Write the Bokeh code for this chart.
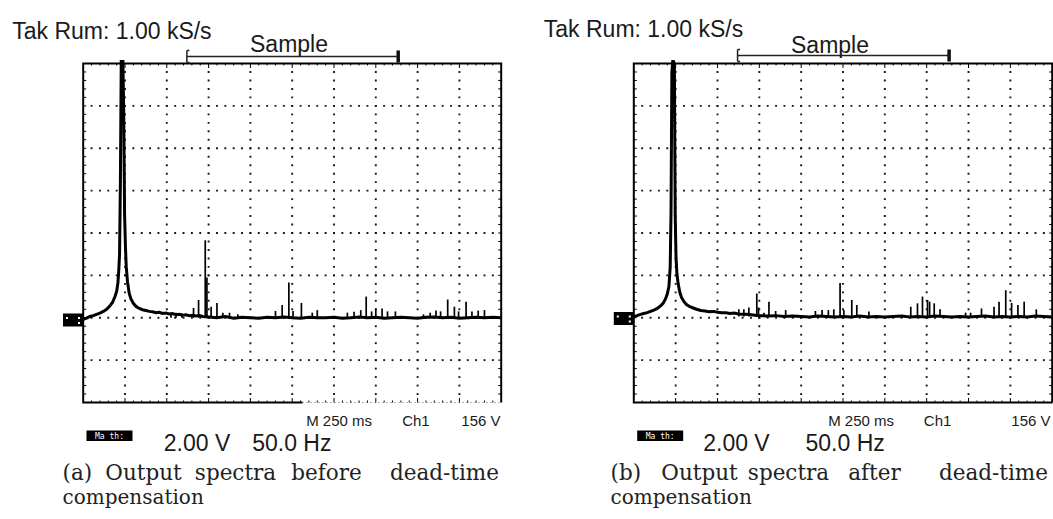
import numpy as np
from bokeh.plotting import figure
from bokeh.models import Range1d
from bokeh.core.properties import value
from bokeh.layouts import row
from bokeh.embed import file_html
from bokeh.resources import INLINE

# ---------------- data (x: frequency in Hz, y: screen divisions) ----------------
freq_a = [0, 4, 8, 12, 16, 20, 24, 28, 32, 35, 38, 40, 41.5, 42.5, 43.5, 44.5, 45.5, 46.5,
          47.5, 48.5, 49.5, 50.5, 51.5, 53, 55, 57, 60, 63, 67, 71, 75, 79, 83, 87, 91, 95,
          99, 103, 107, 111, 115, 119, 123, 127, 131, 135, 139, 143, 150, 160, 170, 180, 190,
          200, 210, 220, 230, 240, 250, 260, 270, 280, 290, 300, 310, 320, 330, 340, 350, 360,
          370, 380, 390, 400, 410, 420, 430, 440, 450, 460, 470, 480, 490, 500]
level_a = [1.96, 1.99, 2.03, 2.05, 2.08, 2.11, 2.15, 2.2, 2.28, 2.36, 2.5, 2.62, 2.82, 3.1,
           3.5, 5.2, 8.5, 9.6, 9.0, 6.8, 4.45, 3.7, 3.2, 2.85, 2.58, 2.45, 2.34, 2.27, 2.22,
           2.19, 2.17, 2.15, 2.14, 2.12, 2.13, 2.1, 2.11, 2.09, 2.1, 2.07, 2.08, 2.06, 2.07,
           2.05, 2.06, 2.04, 2.05, 2.03, 2.02, 2.0, 2.03, 1.99, 2.01, 2.0, 1.99, 2.01, 2.0,
           2.02, 2.0, 1.99, 2.01, 2.0, 2.0, 2.01, 1.99, 2.0, 2.02, 2.0, 2.01, 1.99, 2.0, 2.01,
           2.0, 1.99, 2.01, 2.02, 2.0, 2.01, 1.99, 2.0, 2.01, 2.0, 2.01, 2.0]
spike_freq_a = [105, 111, 118, 132, 138, 146, 148, 153, 160, 167, 175, 185, 230, 238, 246,
                251, 261, 274, 280, 316, 324, 332, 338.5, 345, 350, 357.5, 364, 373.5, 407,
                415, 422, 427.5, 436, 444, 449, 458, 465, 472.5, 480]
spike_level_a = [2.12, 2.12, 2.1, 2.23, 2.42, 3.83, 2.95, 2.26, 2.35, 2.12, 2.12, 2.08, 2.16,
                 2.3, 2.83, 2.16, 2.35, 2.12, 2.18, 2.12, 2.14, 2.18, 2.5, 2.15, 2.22, 2.22,
                 2.15, 2.15, 2.08, 2.12, 2.17, 2.15, 2.43, 2.26, 2.15, 2.38, 2.15, 2.17, 2.18]
floor_a = 2.0

freq_b = [0, 4, 8, 12, 16, 20, 24, 28, 32, 35, 38, 40, 42, 43.5, 44.5, 45.5, 46.5, 47.5,
          48.5, 49.5, 50.5, 51.5, 53, 55, 57, 60, 63, 67, 71, 75, 80, 85, 90, 95, 100, 105,
          110, 115, 120, 125, 130, 135, 140, 145, 150, 160, 170, 180, 190, 200, 210, 220, 230,
          240, 250, 260, 270, 280, 290, 300, 310, 320, 330, 340, 350, 360, 370, 380, 390, 400,
          410, 420, 430, 440, 450, 460, 470, 480, 490, 500]
level_b = [2.03, 2.05, 2.08, 2.1, 2.12, 2.15, 2.18, 2.22, 2.28, 2.34, 2.45, 2.56, 2.74, 3.2,
           4.5, 7.8, 9.6, 9.5, 8.0, 4.4, 3.4, 3.05, 2.8, 2.6, 2.48, 2.38, 2.31, 2.26, 2.23,
           2.2, 2.17, 2.16, 2.14, 2.15, 2.13, 2.12, 2.12, 2.1, 2.11, 2.09, 2.08, 2.08, 2.07,
           2.06, 2.05, 2.04, 2.05, 2.03, 2.04, 2.03, 2.02, 2.04, 2.03, 2.02, 2.03, 2.02, 2.04,
           2.02, 2.03, 2.02, 2.03, 2.04, 2.02, 2.03, 2.02, 2.04, 2.03, 2.02, 2.03, 2.02, 2.03,
           2.04, 2.02, 2.03, 2.02, 2.03, 2.02, 2.04, 2.03, 2.02]
spike_freq_b = [125.5, 131.5, 137.5, 147, 149, 155.5, 161.5, 169.5, 181.5, 217, 225, 232.5,
                239, 246.5, 251, 260.5, 266.5, 281, 331, 339, 345, 351, 353.5, 359, 366,
                396.5, 402.5, 415.5, 430.5, 436.5, 444.5, 451.5, 459, 466.5, 481]
spike_level_b = [2.2, 2.2, 2.24, 2.57, 2.24, 2.12, 2.38, 2.16, 2.18, 2.16, 2.18, 2.18, 2.2,
                 2.82, 2.18, 2.42, 2.3, 2.15, 2.26, 2.34, 2.5, 2.42, 2.38, 2.34, 2.2, 2.12,
                 2.12, 2.22, 2.26, 2.38, 2.65, 2.35, 2.3, 2.38, 2.2]
floor_b = 2.03

sample_span = [124.0, 376.8]     # Hz, extent of the "Sample" bracket

texts_a = dict(rate="Tak Rum: 1.00 kS/s", mode="Sample", time="M 250 ms", ch="Ch1",
               level="156 V", volts="2.00 V", freq="50.0 Hz",
               cap1=["(a)", "Output", "spectra", "before", "dead-time"], cap2="compensation")
texts_b = dict(rate="Tak Rum: 1.00 kS/s", mode="Sample", time="M 250 ms", ch="Ch1",
               level="156 V", volts="2.00 V", freq="50.0 Hz",
               cap1=["(b)", "Output", "spectra", "after", "dead-time"], cap2="compensation")

X_MAX, Y_MAX = 500.0, 8.0
SANS = "Liberation Sans"
SERIF = "DejaVu Serif"
INK = "#1a1a1a"
FIG_H = 514
SCR_TOP = 63          # canvas y of the screen's top edge
SCR_H = 339


def panel(page_left, width, fl, W, freq, level, sf, sl, floor, t, pos):
    fb = SCR_TOP + SCR_H

    def X(px):
        return (px - fl) * X_MAX / W

    def Y(py):
        return (fb - py) * Y_MAX / SCR_H

    p = figure(width=width, height=FIG_H, output_backend="svg", toolbar_location=None,
               x_range=Range1d(X(page_left), X(page_left + width)),
               y_range=Range1d(Y(FIG_H), Y(0)),
               x_axis_type=None, y_axis_type=None,
               min_border=0, min_border_left=0, min_border_right=0,
               min_border_top=0, min_border_bottom=0)
    p.outline_line_color = None
    p.background_fill_color = "white"
    p.border_fill_color = "white"

    # graticule dots
    mx = np.arange(1, 50) * (X_MAX / 50)
    my = np.arange(1, 40) * (Y_MAX / 40)
    gx, gy = [], []
    for k in range(1, 8):
        gx += list(mx); gy += [k] * len(mx)
    for k in range(1, 10):
        gx += [k * X_MAX / 10] * len(my); gy += list(my)
    p.scatter(gx, gy, marker="square", size=1.9, color="#151515", line_color=None)

    # edge ticks
    tx = 3 * X_MAX / W
    p.segment(x0=0, y0=my, x1=tx, y1=my, line_color="black", line_width=1)
    p.segment(x0=X_MAX - tx, y0=my, x1=X_MAX, y1=my, line_color="black", line_width=1)
    minor = np.array([v for v in mx if abs(v / 50 - round(v / 50)) > 1e-6])
    major = np.arange(1, 10) * X_MAX / 10
    d1, d2 = 2 * Y_MAX / SCR_H, 4.5 * Y_MAX / SCR_H
    for xs, d in ((minor, d1), (major, d2)):
        p.segment(x0=xs, y0=0, x1=xs, y1=d, line_color="black", line_width=1)
        p.segment(x0=xs, y0=Y_MAX - d, x1=xs, y1=Y_MAX, line_color="black", line_width=1)

    # screen border (bottom edge interrupted where the readout overlays it)
    be = X(pos["bottom_end"])
    p.multi_line(xs=[[be, 0, 0, X_MAX, X_MAX]], ys=[[0, 0, Y_MAX, Y_MAX, 0]],
                 line_color="black", line_width=2, line_join="miter")
    if be < X_MAX:
        p.segment(x0=be, y0=0, x1=X_MAX, y1=0, line_color="black", line_width=0.6,
                  line_dash="1 3")

    # spectrum trace (clipped at the top of the screen, as on the scope)
    shown = np.minimum(np.array(level, dtype=float), Y_MAX + 2 * Y_MAX / SCR_H)
    p.line(freq, shown, line_color="black", line_width=3, line_join="miter")
    p.segment(x0=sf, y0=[floor] * len(sf), x1=sf, y1=sl, line_color="black", line_width=1.7)

    def txt(text, px, py, size, font=SANS, align="left", base="alphabetic", color=INK):
        p.text(x=[X(px)], y=[Y(py)], text=[text], text_font=value(font),
               text_font_size=value(size), text_align=align, text_baseline=base,
               text_color=color)

    txt(t["rate"], pos["rate"][0], pos["rate"][1], "23px")
    txt(t["mode"], pos["mode"][0], pos["mode"][1], "23px", align="center")

    # "Sample" bracket
    by = Y(pos["br_y"])
    hh = 6 * Y_MAX / SCR_H
    sx = 2.5 * X_MAX / W
    p.segment(x0=sample_span[0], y0=by, x1=sample_span[1], y1=by, line_color="#222",
              line_width=1.6)
    p.segment(x0=[sample_span[0], sample_span[0], sample_span[0]],
              y0=[by - hh, by - hh, by + hh],
              x1=[sample_span[0], sample_span[0] + sx, sample_span[0] + sx],
              y1=[by + hh, by - hh, by + hh], line_color="#222", line_width=1.5)
    p.segment(x0=sample_span[1], y0=by - hh, x1=sample_span[1], y1=by + hh,
              line_color="#111", line_width=3.5)

    # channel marker (reverse video box)
    mk = pos["mk"]
    p.quad(left=X(mk[0] - 10), right=X(mk[0] + 10), bottom=Y(mk[1] + 6.5), top=Y(mk[1] - 6.5),
           fill_color="black", line_color=None)
    p.scatter([X(mk[0] - 6), X(mk[0] + 6), X(mk[0] + 6)],
              [Y(mk[1] - 2), Y(mk[1] - 2), Y(mk[1] + 3)],
              marker="square", size=2, color="white", line_color=None)

    txt(t["time"], pos["time"], 419.5, "15px")
    txt(t["ch"], pos["ch"], 419.5, "15px")
    txt(t["level"], pos["level"], 419.5, "15px", align="right")

    # "Math" reverse-video tag
    m = pos["math"]
    p.quad(left=X(m), right=X(m + 46), bottom=Y(440.5), top=Y(430),
           fill_color="black", line_color=None)
    txt("Ma th:", m + 23, 435.5, "8px", font="DejaVu Sans Mono", align="center",
        base="middle", color="white")

    txt(t["volts"], pos["volts"], 442.7, "23px")
    txt(t["freq"], pos["freq"], 442.7, "23px")

    c = pos["cap"]
    words = t["cap1"]
    txt(words[0], c[0], 471.5, "21.5px", font=SERIF, color="#222")
    for w, cx in zip(words[1:], c[1:]):
        txt(w, cx, 471.5, "21.5px", font=SERIF, align="center", color="#222")
    txt(t["cap2"], c[0], 496.5, "20px", font=SERIF, color="#222")
    return p


pos_a = dict(rate=(11.7, 30), mode=(288.5, 43), br_y=56, mk=(72.5, 319.5), time=305.7,
             ch=401.7, level=500, math=86, volts=163.3, freq=251.7,
             cap=[62, 143, 235, 326, 444], bottom_end=302)
pos_b = dict(rate=(543.3, 28.5), mode=(829.5, 44), br_y=55, mk=(623.3, 318),
             time=827.7, ch=923.3, level=1050, math=636.7, volts=702.7, freq=805,
             cap=[610, 699, 788, 874, 993], bottom_end=1052)

pa = panel(0, 540, 82.7, 418, freq_a, level_a, spike_freq_a, spike_level_a, floor_a,
           texts_a, pos_a)
pb = panel(540, 513, 633.3, 418.4, freq_b, level_b, spike_freq_b, spike_level_b, floor_b,
           texts_b, pos_b)

layout = row(pa, pb)
open("out.html", "w").write(file_html(layout, INLINE))
